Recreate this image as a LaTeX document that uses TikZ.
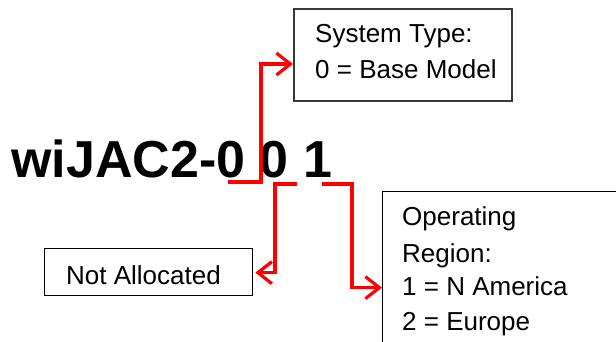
\documentclass[tikz,border=0pt]{standalone}
\usepackage{fontspec}
\setmainfont{Liberation Sans}
\usetikzlibrary{arrows.meta}
\begin{document}
\begin{tikzpicture}[x=1pt,y=-1pt,
  boxtext/.style={anchor=base west, inner sep=0pt, font=\fontsize{26}{36}\selectfont},
  plainbox/.style={draw=black, line width=1.3pt, inner sep=0pt, anchor=north west},
  graybox/.style={draw=black!78, line width=2pt, inner sep=0pt, anchor=north west},
  redarrow/.style={draw=red, line width=3.2pt, -{Straight Barb[length=14pt,width=22pt,line width=3.2pt]}}]
\useasboundingbox (0,0) rectangle (616,341);
% boxes
\node[graybox, minimum width=218pt, minimum height=92pt] (sys) at (293,8) {};
\node[plainbox, minimum width=208pt, minimum height=47pt] (na) at (44,248) {};
\node[plainbox, minimum width=260pt, minimum height=170pt] (op) at (382,191) {};
% box texts
\node[boxtext] (sys1) at (315,42) {System Type:};
\node[boxtext] (sys2) at (315,78) {0 = Base Model};
\node[boxtext] (na1) at (66,284) {Not Allocated};
\node[boxtext] (op1) at (402,225) {Operating};
\node[boxtext] (op2) at (402,262) {Region:};
\node[boxtext] (op3) at (402,295) {1 = N America};
\node[boxtext] (op4) at (402,330) {2 = Europe};
% model code
\node[anchor=base west, inner sep=0pt, font=\fontsize{52}{60}\selectfont\bfseries] (code) at (11,177) {wiJAC2-0 0 1};
% connector start points
\coordinate (d1) at (228,182);
\coordinate (d2) at (297,184);
\coordinate (d3) at (322,184);
% connectors
\draw[redarrow] (d1) -- (261,182) |- ([yshift=-9pt]sys.west);
\draw[redarrow] (d2) -- (275,184) |- ([yshift=-0.5pt,xshift=2pt]na.east);
\draw[redarrow] (d3) -- (352,184) |- ([yshift=-11pt]op.west);
\end{tikzpicture}
\end{document}
